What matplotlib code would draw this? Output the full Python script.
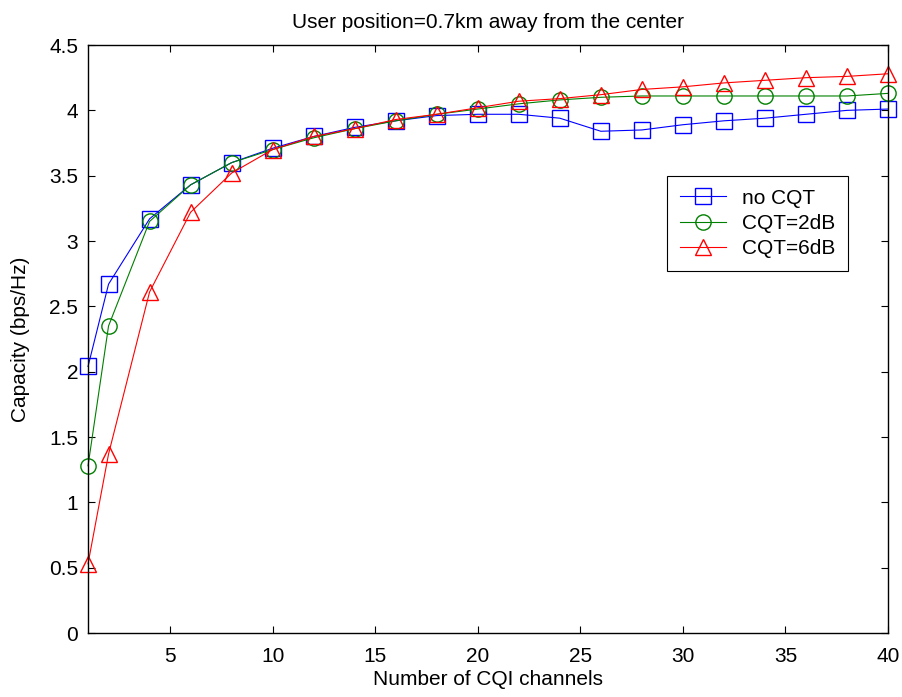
import numpy as np
import matplotlib.pyplot as plt

plt.rcParams['font.family'] = ['Liberation Sans', 'DejaVu Sans']

channels = [1, 2, 4, 6, 8, 10, 12, 14, 16, 18, 20, 22, 24, 26, 28, 30, 32, 34, 36, 38, 40]
no_cqt = [2.04, 2.67, 3.17, 3.43, 3.60, 3.71, 3.80, 3.87, 3.92, 3.96, 3.97, 3.97, 3.94, 3.84,
          3.85, 3.89, 3.92, 3.94, 3.97, 4.00, 4.01]
cqt_2db = [1.28, 2.35, 3.15, 3.43, 3.60, 3.70, 3.79, 3.86, 3.92, 3.97, 4.01, 4.05, 4.08, 4.10,
           4.11, 4.11, 4.11, 4.11, 4.11, 4.11, 4.13]
cqt_6db = [0.53, 1.37, 2.61, 3.22, 3.52, 3.70, 3.80, 3.86, 3.93, 3.97, 4.02, 4.07, 4.09, 4.12,
           4.16, 4.18, 4.21, 4.23, 4.25, 4.26, 4.28]

fig = plt.figure(figsize=(9.02, 6.97), dpi=100)
ax = fig.add_axes([0.0976, 0.0918, 0.8869, 0.8436])

ax.plot(channels, no_cqt, color='#0000ff', marker='s', markersize=11, markerfacecolor='none',
        linewidth=0.8, label='no CQT', clip_on=False)
ax.plot(channels, cqt_2db, color='#008000', marker='o', markersize=11, markerfacecolor='none',
        linewidth=0.8, label='CQT=2dB', clip_on=False)
ax.plot(channels, cqt_6db, color='#ff0000', marker='^', markersize=12, markerfacecolor='none',
        linewidth=0.8, label='CQT=6dB', clip_on=False)

ax.set_xlim(1, 40)
ax.set_ylim(0, 4.5)
ax.set_xticks([5, 10, 15, 20, 25, 30, 35, 40])
ax.set_yticks(np.arange(0, 4.51, 0.5))
ax.set_yticklabels(['0', '0.5', '1', '1.5', '2', '2.5', '3', '3.5', '4', '4.5'])
ax.tick_params(direction='in', top=True, right=True, labelsize=15, length=5)
ax.tick_params(axis='x', pad=10)
ax.tick_params(axis='y', pad=7)
for s in ax.spines.values():
    s.set_linewidth(1)

ax.set_xlabel('Number of CQI channels', fontsize=15, labelpad=3)
ax.set_ylabel('Capacity (bps/Hz)', fontsize=15, labelpad=14)
ax.set_title('User position=0.7km away from the center', fontsize=15, pad=12)

leg = ax.legend(loc='upper left', bbox_to_anchor=(0.724, 0.777), fontsize=15,
                fancybox=False, edgecolor='black', framealpha=1, borderaxespad=0,
                handlelength=2.2, labelspacing=0.3, borderpad=0.6, handletextpad=0.8)
leg.get_frame().set_linewidth(0.8)

fig.savefig('out.png', dpi=100)
